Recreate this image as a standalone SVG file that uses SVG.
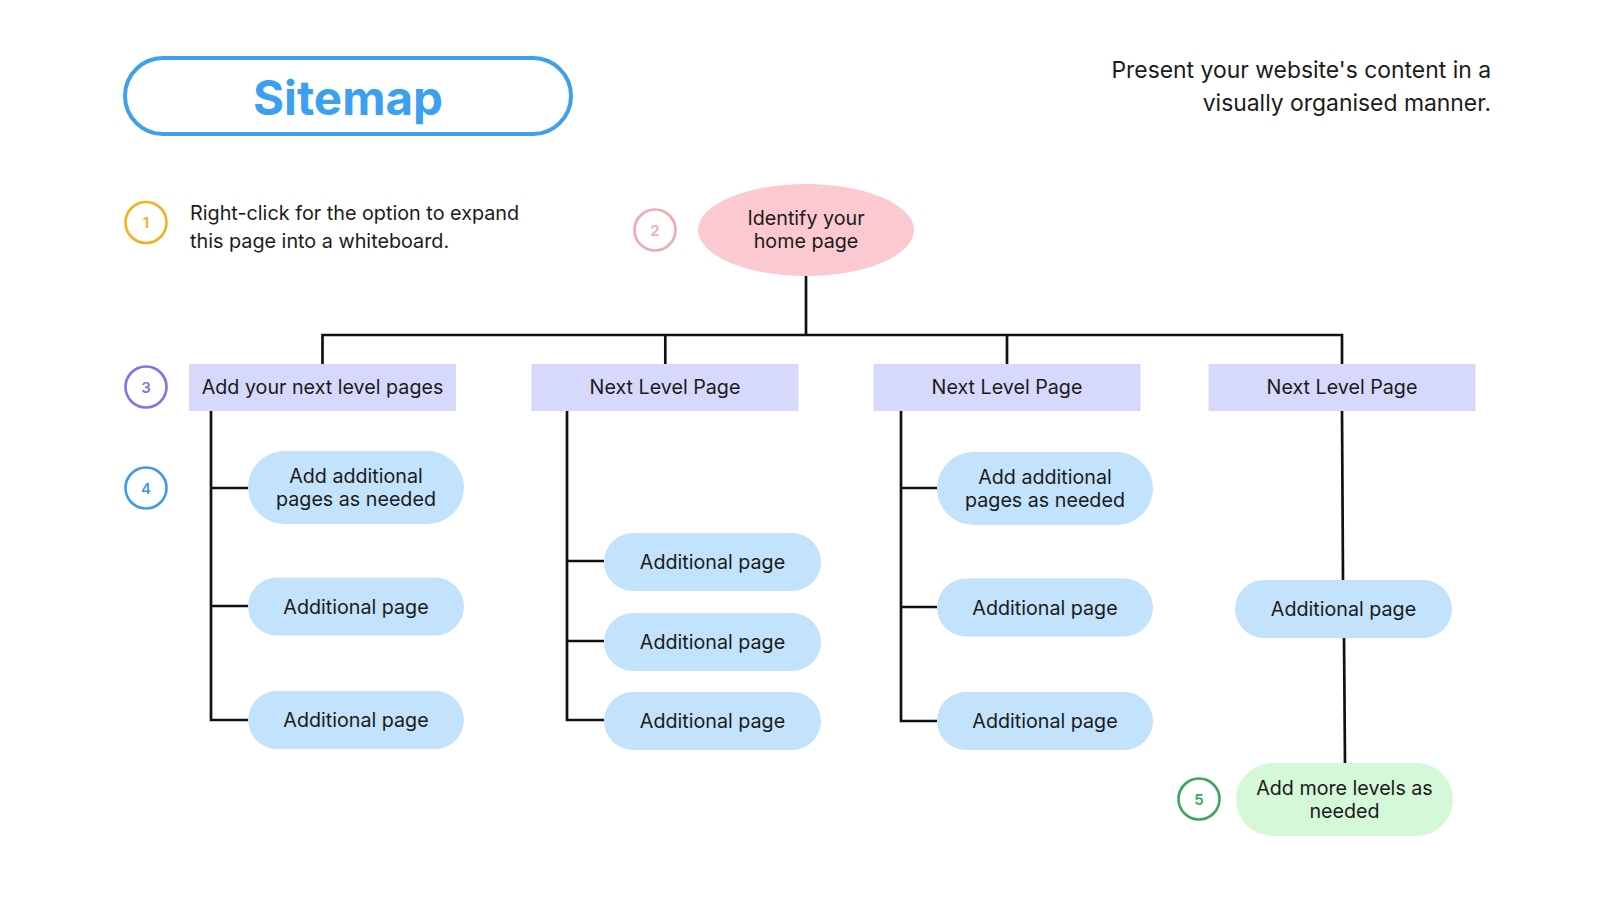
<svg xmlns="http://www.w3.org/2000/svg" width="1600" height="900" viewBox="0 0 1600 900">
<style>
  text { font-family: Inter, "Noto Sans", "Liberation Sans", sans-serif; fill: #1b1b1b; }
  .lbl { font-size: 19.7px; text-anchor: middle; dominant-baseline: central; }
  .pill { fill: #c2e3fb; }
  .box { fill: #d6d9fb; }
  .conn { stroke: #111; stroke-width: 2.7; fill: none; }
  .num { fill: none; stroke-width: 2.6; }
  .numt { font-size: 15px; font-weight: 600; text-anchor: middle; dominant-baseline: central; }
</style>
<rect width="1600" height="900" fill="#ffffff"/>

<g id="title">
  <rect x="125" y="58" width="446" height="76" rx="38" fill="#fff" stroke="#3d9ff0" stroke-width="4"/>
  <text x="348" y="97" style="font-size:47.5px;font-weight:700;fill:#3d9ff0;text-anchor:middle;dominant-baseline:central">Sitemap</text>
</g>

<g id="subtitle">
  <text x="1491" y="78" style="font-size:22.9px;text-anchor:end">Present your website's content in a</text>
  <text x="1491" y="111" style="font-size:22.9px;text-anchor:end">visually organised manner.</text>
</g>

<g id="note1">
  <circle cx="146" cy="222.5" r="20.5" class="num" stroke="#f3b21b"/>
  <text x="146" y="222.5" class="numt" style="fill:#f3b21b">1</text>
  <text x="190" y="220" style="font-size:19.8px">Right-click for the option to expand</text>
  <text x="190" y="248" style="font-size:19.8px">this page into a whiteboard.</text>
</g>

<g id="badge2">
  <circle cx="655" cy="230" r="20.5" class="num" stroke="#f3a9b1"/>
  <text x="655" y="230" class="numt" style="fill:#f3a9b1">2</text>
</g>
<g id="badge3">
  <circle cx="146" cy="387" r="20.5" class="num" stroke="#8b6fe4"/>
  <text x="146" y="387" class="numt" style="fill:#8b6fe4">3</text>
</g>
<g id="badge4">
  <circle cx="146" cy="488" r="20.5" class="num" stroke="#3d9be9"/>
  <text x="146" y="488" class="numt" style="fill:#3d9be9">4</text>
</g>
<g id="badge5">
  <circle cx="1199" cy="799" r="20.5" class="num" stroke="#3aa55d"/>
  <text x="1199" y="799" class="numt" style="fill:#3aa55d">5</text>
</g>

<g id="connectors">
  <path class="conn" d="M806 276 V335"/>
  <path class="conn" d="M322.5 364 V335 H1342 V364"/>
  <path class="conn" d="M665.3 335 V364"/>
  <path class="conn" d="M1007 335 V364"/>
  <path class="conn" d="M211 411 V720 H248 M211 488 H248 M211 606 H248"/>
  <path class="conn" d="M567 411 V720 H604 M567 561 H604 M567 641 H604"/>
  <path class="conn" d="M901 411 V721 H937 M901 488 H937 M901 607 H937"/>
  <path class="conn" d="M1342 411 L1343 580"/>
  <path class="conn" d="M1344 638 L1345 763"/>
</g>

<g id="home">
  <ellipse cx="806" cy="230" rx="108" ry="46" fill="#fbc9cf"/>
  <text x="806" y="218" class="lbl">Identify your</text>
  <text x="806" y="241" class="lbl">home page</text>
</g>

<g id="level1">
  <rect class="box" x="189" y="364" width="267" height="47"/>
  <text x="322.5" y="387" class="lbl">Add your next level pages</text>
</g>
<g id="level2">
  <rect class="box" x="531.5" y="364" width="267" height="47"/>
  <text x="665" y="387" class="lbl">Next Level Page</text>
</g>
<g id="level3">
  <rect class="box" x="873.5" y="364" width="267" height="47"/>
  <text x="1007" y="387" class="lbl">Next Level Page</text>
</g>
<g id="level4">
  <rect class="box" x="1208.5" y="364" width="267" height="47"/>
  <text x="1342" y="387" class="lbl">Next Level Page</text>
</g>

<g id="c1a">
  <rect class="pill" x="248" y="451" width="216" height="73" rx="36.5"/>
  <text x="356" y="476" class="lbl">Add additional</text>
  <text x="356" y="499" class="lbl">pages as needed</text>
</g>
<g id="c1b">
  <rect class="pill" x="248" y="577.5" width="216" height="58" rx="29"/>
  <text x="356" y="606.5" class="lbl">Additional page</text>
</g>
<g id="c1c">
  <rect class="pill" x="248" y="691" width="216" height="58" rx="29"/>
  <text x="356" y="720" class="lbl">Additional page</text>
</g>

<g id="c2a">
  <rect class="pill" x="604" y="533" width="217" height="58" rx="29"/>
  <text x="712.5" y="562" class="lbl">Additional page</text>
</g>
<g id="c2b">
  <rect class="pill" x="604" y="613" width="217" height="58" rx="29"/>
  <text x="712.5" y="642" class="lbl">Additional page</text>
</g>
<g id="c2c">
  <rect class="pill" x="604" y="692" width="217" height="58" rx="29"/>
  <text x="712.5" y="721" class="lbl">Additional page</text>
</g>

<g id="c3a">
  <rect class="pill" x="937" y="452" width="216" height="73" rx="36.5"/>
  <text x="1045" y="477" class="lbl">Add additional</text>
  <text x="1045" y="500" class="lbl">pages as needed</text>
</g>
<g id="c3b">
  <rect class="pill" x="937" y="578.5" width="216" height="58" rx="29"/>
  <text x="1045" y="607.5" class="lbl">Additional page</text>
</g>
<g id="c3c">
  <rect class="pill" x="937" y="692" width="216" height="58" rx="29"/>
  <text x="1045" y="721" class="lbl">Additional page</text>
</g>

<g id="c4a">
  <rect class="pill" x="1235" y="580" width="217" height="58" rx="29"/>
  <text x="1343.5" y="609" class="lbl">Additional page</text>
</g>
<g id="c4b">
  <rect x="1236" y="763" width="217" height="73" rx="36.5" fill="#d5f8d8"/>
  <text x="1344.5" y="787.5" class="lbl">Add more levels as</text>
  <text x="1344.5" y="810.5" class="lbl">needed</text>
</g>
</svg>
